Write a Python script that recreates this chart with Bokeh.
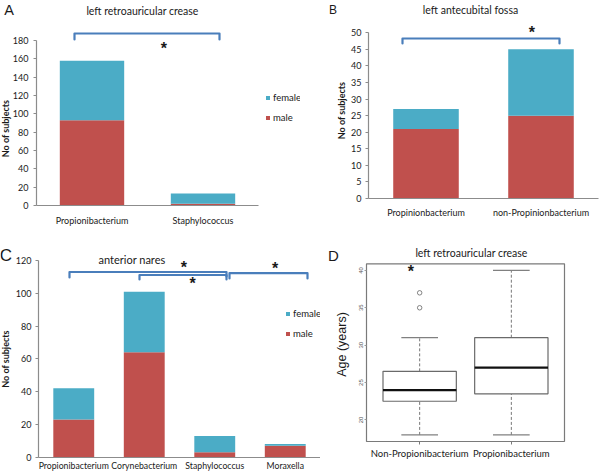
import math
from bokeh.plotting import figure
from bokeh.layouts import column, row
from bokeh.models import Range1d, FixedTicker, Label, Legend, LegendItem, ColumnDataSource
from bokeh.embed import file_html
from bokeh.resources import INLINE

# ---------------- data ----------------
a_categories = ["Propionibacterium", "Staphylococcus"]
a_male = [93, 2]
a_female = [65, 11]
a_ticks = [0, 20, 40, 60, 80, 100, 120, 140, 160, 180]

b_categories = ["Propinionbacterium", "non-Propinionbacterium"]
b_male = [21, 25]
b_female = [6, 20]
b_ticks = [0, 5, 10, 15, 20, 25, 30, 35, 40, 45, 50]

c_categories = ["Propionibacterium", "Corynebacterium", "Staphylococcus", "Moraxella"]
c_male = [23, 64, 3, 7]
c_female = [19, 37, 10, 1]
c_ticks = [0, 20, 40, 60, 80, 100, 120]

d_groups = ["Non-Propionibacterium", "Propionibacterium"]
d_whisker_low = [18, 18]
d_q1 = [22.5, 23.5]
d_median = [24, 27]
d_q3 = [26.5, 31]
d_whisker_high = [31, 40]
d_outlier_group = [1, 1]
d_outlier_age = [35, 37]
d_ticks = [20, 25, 30, 35, 40]

sexes = ["male", "female"]

# ---------------- styles ----------------
MALE = "#C0504D"
FEMALE = "#4BACC6"
BRACKET = "#4A7EBB"
AXIS = "#8C8C8C"
TXT = "#1a1a1a"
FONT = "Lato"
LETTER_FONT = "Liberation Sans"


class Mapper:
    """pixel layout of one panel: page pixel -> data value"""
    def __init__(self, ox, oy, w, h, px0, vx0, sx, py0, vy0, sy):
        self.ox, self.oy, self.w, self.h = ox, oy, w, h
        self.px0, self.vx0, self.sx = px0, vx0, sx
        self.py0, self.vy0, self.sy = py0, vy0, sy

    def x(self, px):
        return self.vx0 + (px - self.px0) / self.sx

    def y(self, py):
        return self.vy0 + (self.py0 - py) / self.sy

    def xr(self):
        return Range1d(self.x(self.ox), self.x(self.ox + self.w))

    def yr(self):
        return Range1d(self.y(self.oy + self.h), self.y(self.oy))


def base_fig(m):
    p = figure(width=m.w, height=m.h, x_range=m.xr(), y_range=m.yr(),
               output_backend="svg", toolbar_location=None,
               min_border=0, min_border_left=0, min_border_right=0,
               min_border_top=0, min_border_bottom=0)
    p.frame_align = False
    p.xgrid.visible = False
    p.ygrid.visible = False
    p.outline_line_color = None
    return p


def bar_panel(m, cats, male, female, ticks, bar_width, x_standoff, y_standoff, x_font_size):
    n = len(cats)
    xs = list(range(1, n + 1))
    src = ColumnDataSource(dict(x=xs, male=male, female=female))
    p = base_fig(m)
    rs = p.vbar_stack(sexes, x="x", width=bar_width, source=src,
                      fill_color=[MALE, FEMALE], line_color=None)
    xa = p.xaxis[0]
    xa.fixed_location = 0
    xa.ticker = FixedTicker(ticks=xs)
    xa.major_label_overrides = {x: c for x, c in zip(xs, cats)}
    xa.bounds = (0.5, n + 0.5)
    xa.axis_line_color = AXIS
    xa.axis_line_width = 1.2
    xa.major_tick_line_color = None
    xa.minor_tick_line_color = None
    xa.major_tick_out = 0
    xa.major_tick_in = 0
    xa.major_label_standoff = x_standoff
    xa.major_label_text_font = FONT
    xa.major_label_text_font_size = x_font_size
    xa.major_label_text_color = TXT
    ya = p.yaxis[0]
    ya.fixed_location = 0.5
    ya.ticker = FixedTicker(ticks=ticks)
    ya.bounds = (0, ticks[-1])
    ya.axis_line_color = AXIS
    ya.axis_line_width = 1.2
    ya.major_tick_line_color = AXIS
    ya.major_tick_out = 3
    ya.major_tick_in = 0
    ya.minor_tick_line_color = None
    ya.major_label_standoff = y_standoff
    ya.major_label_text_font = FONT
    ya.major_label_text_font_size = "9px"
    ya.major_label_text_color = TXT
    return p, rs


def add_text(p, x, y, text, size, font=FONT, style="normal", angle=0.0, align="center"):
    p.add_layout(Label(x=x, y=y, text=text, text_font=font, text_font_size=size,
                       text_font_style=style, text_color=TXT, angle=angle,
                       text_align=align, text_baseline="middle"))


def add_star(p, m, px, py):
    # the asterisk glyph sits high in its line box: anchor a little below its visual centre
    add_text(p, m.x(px), m.y(py + 2.5), "*", "16px", font=LETTER_FONT, style="bold")


def add_bracket(p, x0, x1, top, low_left, low_right):
    p.line(x=[x0, x0, x1, x1], y=[low_left, top, top, low_right],
           line_color=BRACKET, line_width=2.2, line_join="round", line_cap="round")


def add_legend(p, rs, loc):
    lg = Legend(items=[LegendItem(label="female", renderers=[rs[1]]),
                       LegendItem(label="male", renderers=[rs[0]])],
                location=loc, orientation="vertical",
                glyph_width=5, glyph_height=5, label_height=20, label_width=20,
                spacing=0, padding=0, margin=0, label_standoff=3,
                border_line_color=None, background_fill_alpha=0,
                label_text_font=FONT, label_text_font_size="9.5px",
                label_text_color=TXT)
    p.add_layout(lg)


# ---------------- panel A ----------------
mA = Mapper(0, 0, 300, 230, 36, 0.5, 111, 205, 0, 0.9167)
pA, rsA = bar_panel(mA, a_categories, a_male, a_female, a_ticks, 0.58, 9, 5, "9px")
add_legend(pA, rsA, (265, 230 - 127))
add_bracket(pA, mA.x(74), mA.x(219), mA.y(33), mA.y(39), mA.y(39))
add_star(pA, mA, 163.3, 45)
add_text(pA, mA.x(142), mA.y(10.3), "left retroauricular crease", "10.5px")
add_text(pA, mA.x(8.5), mA.y(9.2), "A", "14.5px", font=LETTER_FONT)
add_text(pA, mA.x(5), mA.y(128), "No of subjects", "9px", style="bold", angle=math.pi / 2)

# ---------------- panel B ----------------
mB = Mapper(300, 0, 300, 230, 368, 0.5, 115, 198, 0, 3.314)
pB, rsB = bar_panel(mB, b_categories, b_male, b_female, b_ticks, 0.57, 8, 4, "9px")
add_bracket(pB, mB.x(402), mB.x(559), mB.y(38), mB.y(43), mB.y(43))
add_star(pB, mB, 531.3, 29.3)
add_text(pB, mB.x(470), mB.y(9.6), "left antecubital fossa", "10.5px")
add_text(pB, mB.x(332.5), mB.y(9.2), "B", "12px", font=LETTER_FONT)
add_text(pB, mB.x(341), mB.y(110), "No of subjects", "9px", style="bold", angle=math.pi / 2)

# ---------------- panel C ----------------
mC = Mapper(0, 230, 320, 244, 38, 0.5, 70.5, 456.7, 0, 1.639)
pC, rsC = bar_panel(mC, c_categories, c_male, c_female, c_ticks, 0.58, 3, 4, "8.7px")
add_legend(pC, rsC, (285, 474 - 343))
add_bracket(pC, mC.x(69), mC.x(226), mC.y(271.5), mC.y(277), mC.y(276))
add_bracket(pC, mC.x(139), mC.x(226), mC.y(274.5), mC.y(279), mC.y(279))
add_bracket(pC, mC.x(229), mC.x(307), mC.y(272.7), mC.y(278), mC.y(278))
add_star(pC, mC, 183.3, 264)
add_star(pC, mC, 192, 280)
add_star(pC, mC, 274.5, 265)
add_text(pC, mC.x(131.5), mC.y(259.2), "anterior nares", "11px")
add_text(pC, mC.x(5.5), mC.y(254.5), "C", "17px", font=LETTER_FONT)
add_text(pC, mC.x(5.3), mC.y(358.5), "No of subjects", "9px", style="bold", angle=math.pi / 2)

# ---------------- panel D ----------------
n_d = len(d_groups)
all_ages = d_whisker_low + d_whisker_high + d_outlier_age
d_pad_y = 0.04 * (max(all_ages) - min(all_ages))
d_box_x = (0.5 - 0.04 * n_d, n_d + 0.5 + 0.04 * n_d)
d_box_y = (min(all_ages) - d_pad_y, max(all_ages) + d_pad_y)
mD = Mapper(320, 230, 280, 244, 366, d_box_x[0], 198 / (d_box_x[1] - d_box_x[0]),
            441, d_box_y[0], 177.7 / (d_box_y[1] - d_box_y[0]))
pD = base_fig(mD)
pD.quad(left=[d_box_x[0]], right=[d_box_x[1]], bottom=[d_box_y[0]], top=[d_box_y[1]],
        fill_color=None, line_color="#7a7a7a", line_width=1.2)
gx = list(range(1, n_d + 1))
dsrc = ColumnDataSource(dict(
    x=gx, low=d_whisker_low, q1=d_q1, med=d_median, q3=d_q3, high=d_whisker_high,
    box_l=[g - 0.4 for g in gx], box_r=[g + 0.4 for g in gx],
    cap_l=[g - 0.2 for g in gx], cap_r=[g + 0.2 for g in gx]))
pD.segment(x0="x", y0="q3", x1="x", y1="high", source=dsrc,
           line_color="#777777", line_dash="3 2", line_width=1)
pD.segment(x0="x", y0="low", x1="x", y1="q1", source=dsrc,
           line_color="#777777", line_dash="3 2", line_width=1)
pD.segment(x0="cap_l", y0="high", x1="cap_r", y1="high", source=dsrc,
           line_color="#808080", line_width=1.2)
pD.segment(x0="cap_l", y0="low", x1="cap_r", y1="low", source=dsrc,
           line_color="#808080", line_width=1.2)
pD.vbar(x="x", width=0.8, bottom="q1", top="q3", source=dsrc,
        fill_color="white", line_color="#6a6a6a", line_width=1.2)
pD.segment(x0="box_l", y0="med", x1="box_r", y1="med", source=dsrc,
           line_color="#111111", line_width=2.2)
pD.scatter(x=d_outlier_group, y=d_outlier_age, marker="circle", size=4.5,
           fill_color=None, line_color="#666666", line_width=0.8)
xa = pD.xaxis[0]
xa.fixed_location = d_box_y[0]
xa.ticker = FixedTicker(ticks=gx)
xa.major_label_overrides = {g: c for g, c in zip(gx, d_groups)}
xa.axis_line_color = None
xa.major_tick_line_color = "#7a7a7a"
xa.major_tick_out = 3
xa.major_tick_in = 0
xa.minor_tick_line_color = None
xa.major_label_standoff = 3
xa.major_label_text_font = FONT
xa.major_label_text_font_size = "9.5px"
xa.major_label_text_color = TXT
ya = pD.yaxis[0]
ya.fixed_location = d_box_x[0]
ya.ticker = FixedTicker(ticks=d_ticks)
ya.axis_line_color = None
ya.major_tick_line_color = "#9a9a9a"
ya.major_tick_out = 2
ya.major_tick_in = 0
ya.minor_tick_line_color = None
ya.major_label_orientation = "vertical"
ya.major_label_standoff = 1
ya.major_label_text_font = LETTER_FONT
ya.major_label_text_font_size = "6px"
ya.major_label_text_color = "#555555"
add_text(pD, mD.x(341.6), mD.y(344), "Age (years)", "12.5px", font=LETTER_FONT, angle=math.pi / 2)
add_text(pD, mD.x(471), mD.y(252.3), "left retroauricular crease", "10.5px")
add_text(pD, mD.x(333), mD.y(255.3), "D", "15px", font=LETTER_FONT)
add_star(pD, mD, 410.3, 268.3)

layout = column(row(pA, pB), row(pC, pD))
open("out.html", "w").write(file_html(layout, INLINE))
